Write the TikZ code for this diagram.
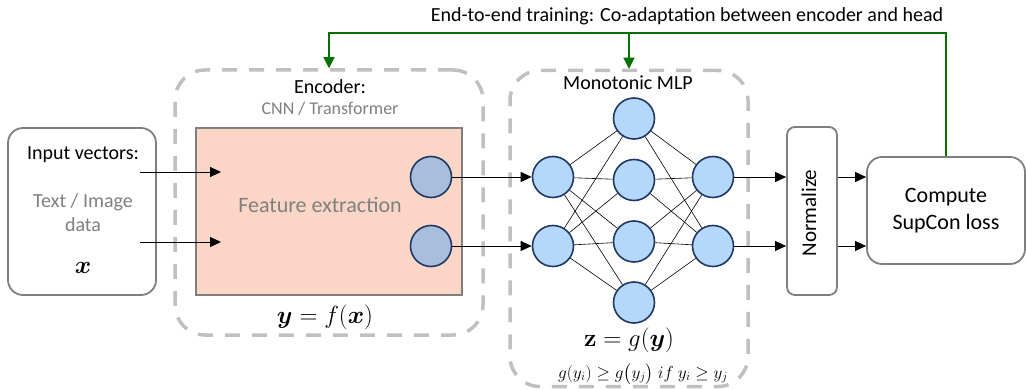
\documentclass[tikz,border=0pt]{standalone}
\usepackage[no-math]{fontspec}
\setmainfont{Carlito}
\usepackage{amsmath,bm}
\definecolor{boxgray}{HTML}{7F7F7F}
\definecolor{dashgray}{HTML}{C0C0C0}
\definecolor{featfill}{HTML}{FBD5C5}
\definecolor{encfill}{HTML}{A9BDDC}
\definecolor{mlpfill}{HTML}{B4D7FA}
\definecolor{navy}{HTML}{1F3864}
\definecolor{traingreen}{HTML}{007000}
\definecolor{softtext}{HTML}{808080}
\usetikzlibrary{arrows.meta, positioning}
\tikzset{
  box/.style={draw=boxgray, line width=1.8pt, rounded corners=15pt, fill=white},
  dashbox/.style={draw=dashgray, line width=3.5pt, dash pattern=on 15pt off 12pt, rounded corners=30pt},
  unit/.style={circle, draw=navy, line width=1.6pt, minimum size=41pt, inner sep=0pt},
  flow/.style={-{Triangle[length=11pt,width=10pt]}, line width=0.8pt},
  wire/.style={line width=0.6pt},
  train/.style={draw=traingreen, line width=1.1pt},
}
\newcommand{\lbl}{\fontsize{20}{24}\selectfont}
\begin{document}
\begin{tikzpicture}[x=1pt, y=-1pt]
  \useasboundingbox (0,0) rectangle (1026,390);

  % dashed groups
  \node[dashbox, minimum width=308pt, minimum height=265pt] (enc) at (329,202.5) {};
  \node[dashbox, minimum width=238pt, minimum height=316pt] (mlp) at (629,228.5) {};

  % input
  \node[box, minimum width=148pt, minimum height=167pt] (input) at (82,211.5) {};
  \node[font=\lbl] (invec) at (83,155) {Input vectors:};
  \node[font=\lbl, text=softtext, align=center] (indata) at (83,213) {Text / Image\\data};
  \node[font=\fontsize{24}{28}\selectfont] (inx) at (83,268) {$\bm{x}$};

  % encoder
  \node[font=\lbl] (enctitle) at (330,87) {Encoder:};
  \node[font=\fontsize{18}{22}\selectfont, text=softtext] (encsub) at (330,109) {CNN / Transformer};
  \node[draw=boxgray, line width=1.8pt, fill=featfill, minimum width=266pt, minimum height=167pt] (feat) at (329,211.5) {};
  \node[font=\fontsize{22}{26}\selectfont, text=softtext] (feattxt) at (320,205) {Feature extraction};
  \node[unit, fill=encfill] (e1) at (431,177) {};
  \node[unit, fill=encfill] (e2) at (431,246) {};
  \node[font=\fontsize{24}{28}\selectfont, inner sep=0pt] (fx) at (325,317) {$\bm{y}=f(\bm{x})$};

  \coordinate (in1) at (140,172);
  \coordinate (in2) at (140,242);
  \coordinate (fx1) at (221,172);
  \coordinate (fx2) at (221,242);
  \draw[flow] (in1) -- (fx1);
  \draw[flow] (in2) -- (fx2);

  % monotonic mlp
  \node[font=\lbl] (mlptitle) at (628,83) {Monotonic MLP};
  \foreach \i/\y in {1/177,2/246}
    \node[unit, fill=mlpfill] (a\i) at (553,\y) {};
  \foreach \i/\y in {1/118.5,2/180,3/241.5,4/302.5}
    \node[unit, fill=mlpfill] (b\i) at (634,\y) {};
  \foreach \i/\y in {1/177,2/246}
    \node[unit, fill=mlpfill] (c\i) at (713,\y) {};
  \foreach \i in {1,2}
    \foreach \j in {1,...,4}
      \draw[wire] (a\i) -- (b\j) (b\j) -- (c\i);
  \node[font=\fontsize{24}{28}\selectfont, inner sep=0pt] (gy) at (629,340) {$\mathbf{z}=g(\bm{y})$};
  \node[font=\fontsize{18}{21}\selectfont, inner sep=0pt] (mono) at (643,374) {$g(y_i)\geq g\bigl(y_j\bigr)\ if\ y_i\geq y_j$};

  % normalize and loss
  \node[box, rounded corners=8pt, minimum width=50pt, minimum height=168pt] (norm) at (812,211) {};
  \node[font=\fontsize{21}{25}\selectfont, rotate=90] (normtxt) at (809,213) {Normalize};
  \node[box, minimum width=158pt, minimum height=107pt, font=\fontsize{22}{26.5}\selectfont, align=center] (comp) at (946,210.5) {Compute\\SupCon loss};

  \foreach \i in {1,2} {
    \draw[flow] (e\i) -- (a\i);
    \draw[flow] (c\i) -- (c\i -| norm.west);
    \draw[flow] (c\i -| norm.east) -- (c\i -| comp.west);
  }

  % end-to-end training loop
  \coordinate (loop) at (0,33);
  \draw[train, -{Triangle[length=11pt,width=11pt]}] (comp.north) -- (comp.north |- loop) -| (enc.north);
  \draw[train, -{Triangle[length=11pt,width=11pt]}] (mlp.north |- loop) -- (mlp.north);
  \node[font=\fontsize{20}{24}\selectfont] (looptxt) at (687,16) {End-to-end training: Co-adaptation between encoder and head};
\end{tikzpicture}
\end{document}
